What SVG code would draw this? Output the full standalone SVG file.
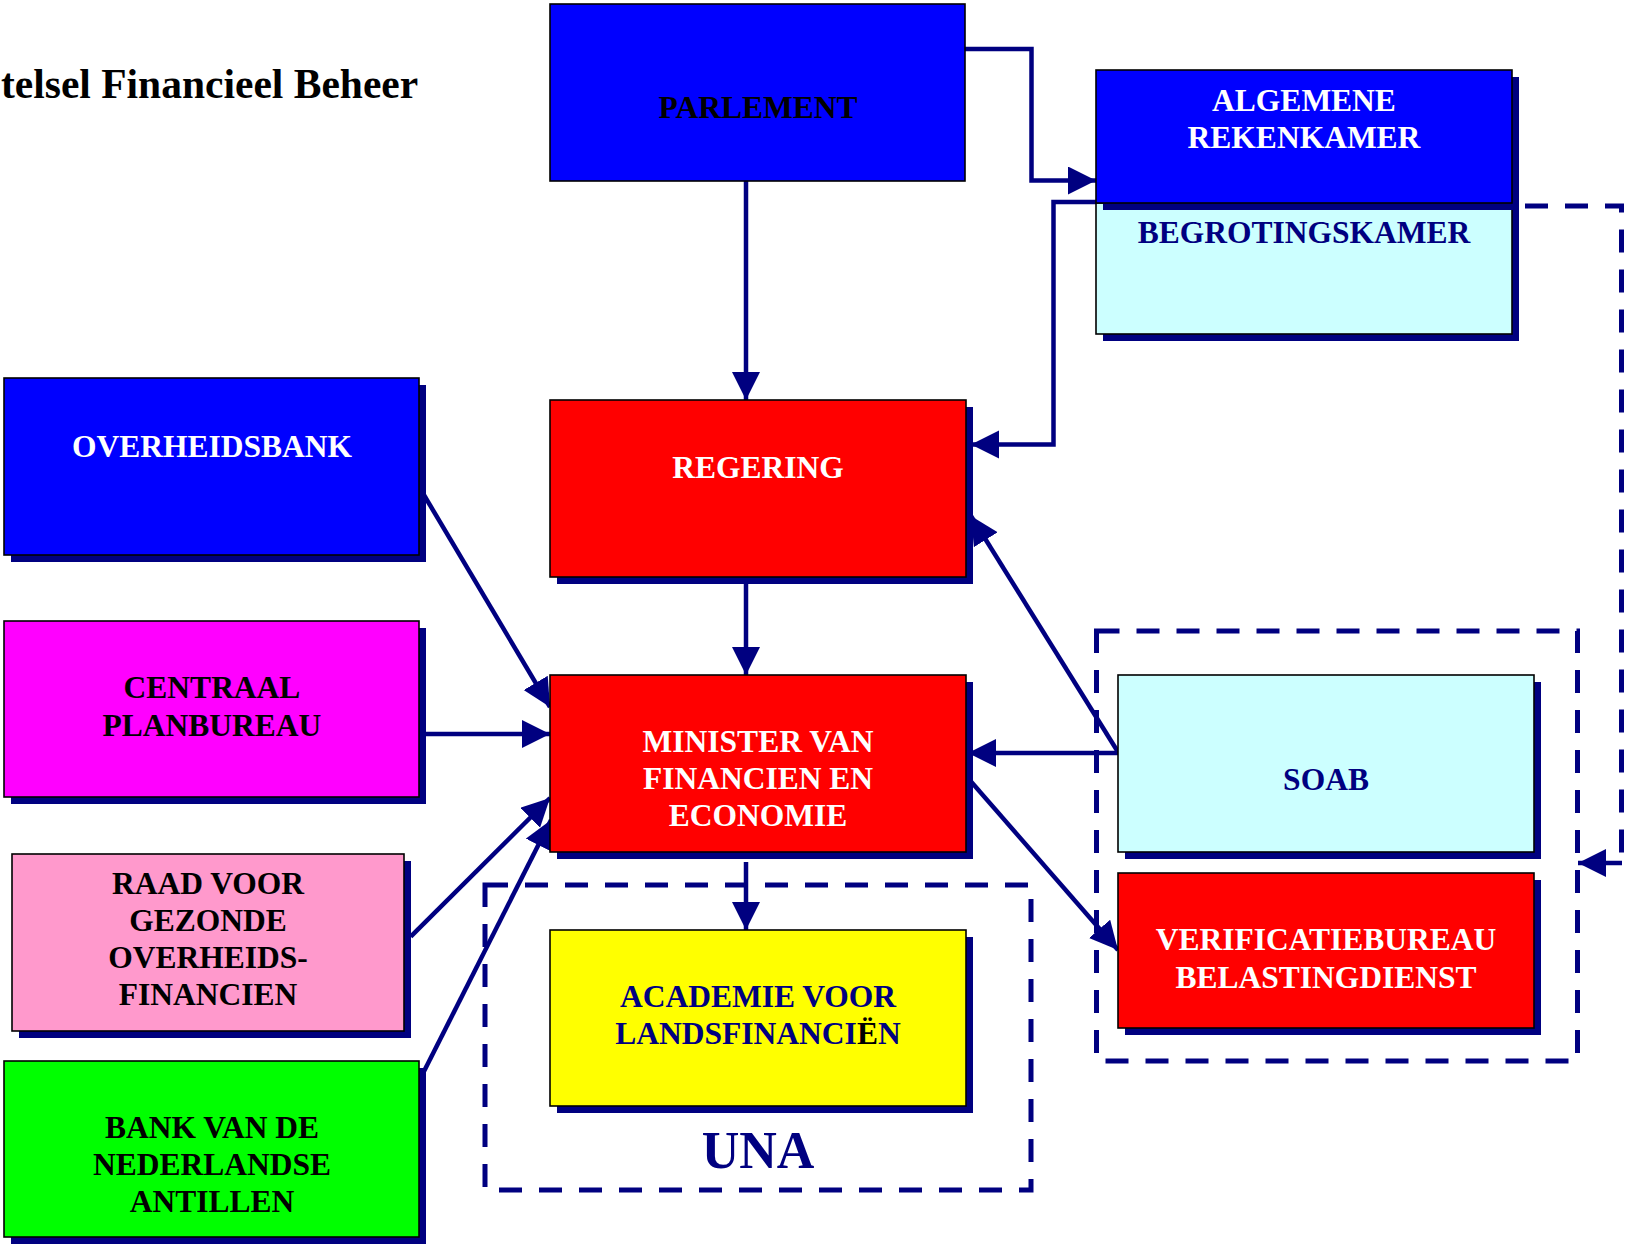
<svg xmlns="http://www.w3.org/2000/svg" width="1625" height="1244" viewBox="0 0 1625 1244">
<style>
.box{stroke:#000;stroke-width:1.6}
.sh{fill:#000080}
.t{font-family:"Liberation Serif","Times New Roman",serif;font-weight:bold;font-size:31.5px;text-anchor:middle}
.w{fill:#fff}.k{fill:#000}.n{fill:#000080}
.c{fill:none;stroke:#000080;stroke-width:4.5;stroke-linejoin:miter}
.d{fill:none;stroke:#000080;stroke-width:5;stroke-dasharray:23 17}
</style>
<defs>
<marker id="ah" markerUnits="userSpaceOnUse" markerWidth="29" markerHeight="29" refX="28" refY="14" orient="auto" viewBox="0 0 29 29">
<path d="M0,0 L28,14 L0,28 z" fill="#000080"/>
</marker>
</defs>
<rect width="1625" height="1244" fill="#fff"/>
<text x="1" y="98" style="font-family:'Liberation Serif','Times New Roman',serif;font-weight:bold;font-size:41.5px;text-anchor:start" fill="#000">telsel Financieel Beheer</text>

<g id="group-una"><rect class="d" x="485" y="885" width="546" height="305"/>
<text x="758" y="1168" class="t n" style="font-size:52px">UNA</text></g>
<g id="group-soab"><rect class="d" x="1096.5" y="631" width="481" height="430"/></g>

<g id="connectors">
<path class="c" d="M965,49 H1031.5 V180.5 H1096" marker-end="url(#ah)"/>
<path class="c" d="M746,181 V400" marker-end="url(#ah)"/>
<path class="c" d="M1096,202 H1053.5 V444.5 H971" marker-end="url(#ah)"/>
<path class="c" d="M746,577 V675" marker-end="url(#ah)"/>
<path class="c" d="M746,862 V930" marker-end="url(#ah)"/>
<path class="c" d="M421,490 L550,707" marker-end="url(#ah)"/>
<path class="c" d="M420,734 H550" marker-end="url(#ah)"/>
<path class="c" d="M410.7,936.7 L550,798" marker-end="url(#ah)"/>
<path class="c" d="M419.6,1080 L551,820" marker-end="url(#ah)"/>
<path class="c" d="M1118,753 H968" marker-end="url(#ah)"/>
<path class="c" d="M1118,752 L971,516" marker-end="url(#ah)"/>
<path class="c" d="M967,777 L1118,950" marker-end="url(#ah)"/>
<path class="d" d="M1525,206 H1621.5 V853"/>
<path class="c" d="M1622,863 H1578" marker-end="url(#ah)"/>
</g>

<g id="parlement"><rect class="box" x="550" y="4" width="415" height="177" fill="#0000ff"/>
<text class="t k" x="758" y="118">PARLEMENT</text></g>

<g id="begrotingskamer"><rect class="sh" x="1103" y="210" width="416" height="131"/>
<rect class="box" x="1096" y="203" width="416" height="131" fill="#ccffff"/>
<text class="t n" x="1304" y="243">BEGROTINGSKAMER</text></g>

<g id="algemene-rekenkamer"><rect class="sh" x="1103" y="77" width="416" height="133"/>
<rect class="box" x="1096" y="70" width="416" height="133" fill="#0000ff"/>
<text class="t w" x="1304" y="111">ALGEMENE</text>
<text class="t w" x="1304" y="148">REKENKAMER</text></g>

<g id="overheidsbank"><rect class="sh" x="11" y="385" width="415" height="177"/>
<rect class="box" x="4" y="378" width="415" height="177" fill="#0000ff"/>
<text class="t w" x="212" y="457">OVERHEIDSBANK</text></g>

<g id="regering"><rect class="sh" x="557" y="407" width="416" height="177"/>
<rect class="box" x="550" y="400" width="416" height="177" fill="#ff0000"/>
<text class="t w" x="758" y="478">REGERING</text></g>

<g id="centraal-planbureau"><rect class="sh" x="11" y="628" width="415" height="176"/>
<rect class="box" x="4" y="621" width="415" height="176" fill="#ff00ff"/>
<text class="t k" x="212" y="698">CENTRAAL</text>
<text class="t k" x="212" y="736">PLANBUREAU</text></g>

<g id="minister"><rect class="sh" x="557" y="682" width="416" height="177"/>
<rect class="box" x="550" y="675" width="416" height="177" fill="#ff0000"/>
<text class="t w" x="758" y="752">MINISTER VAN</text>
<text class="t w" x="758" y="789">FINANCIEN EN</text>
<text class="t w" x="758" y="826">ECONOMIE</text></g>

<g id="raad"><rect class="sh" x="19" y="861" width="392" height="177"/>
<rect class="box" x="12" y="854" width="392" height="177" fill="#ff99cc"/>
<text class="t k" x="208" y="894">RAAD VOOR</text>
<text class="t k" x="208" y="931">GEZONDE</text>
<text class="t k" x="208" y="968">OVERHEIDS-</text>
<text class="t k" x="208" y="1005">FINANCIEN</text></g>

<g id="bank-nederlandse-antillen"><rect class="sh" x="11" y="1068" width="415" height="176"/>
<rect class="box" x="4" y="1061" width="415" height="176" fill="#00ff00"/>
<text class="t k" x="212" y="1138">BANK VAN DE</text>
<text class="t k" x="212" y="1175">NEDERLANDSE</text>
<text class="t k" x="212" y="1212">ANTILLEN</text></g>

<g id="academie"><rect class="sh" x="557" y="937" width="416" height="176"/>
<rect class="box" x="550" y="930" width="416" height="176" fill="#ffff00"/>
<text class="t n" x="758" y="1007">ACADEMIE VOOR</text>
<text class="t n" x="758" y="1044">LANDSFINANCI<tspan fill="#000">Ë</tspan>N</text></g>

<g id="soab"><rect class="sh" x="1125" y="682" width="416" height="177"/>
<rect class="box" x="1118" y="675" width="416" height="177" fill="#ccffff"/>
<text class="t n" x="1326" y="790">SOAB</text></g>

<g id="verificatiebureau"><rect class="sh" x="1125" y="880" width="416" height="155"/>
<rect class="box" x="1118" y="873" width="416" height="155" fill="#ff0000"/>
<text class="t w" x="1326" y="950">VERIFICATIEBUREAU</text>
<text class="t w" x="1326" y="988">BELASTINGDIENST</text></g>
</svg>
